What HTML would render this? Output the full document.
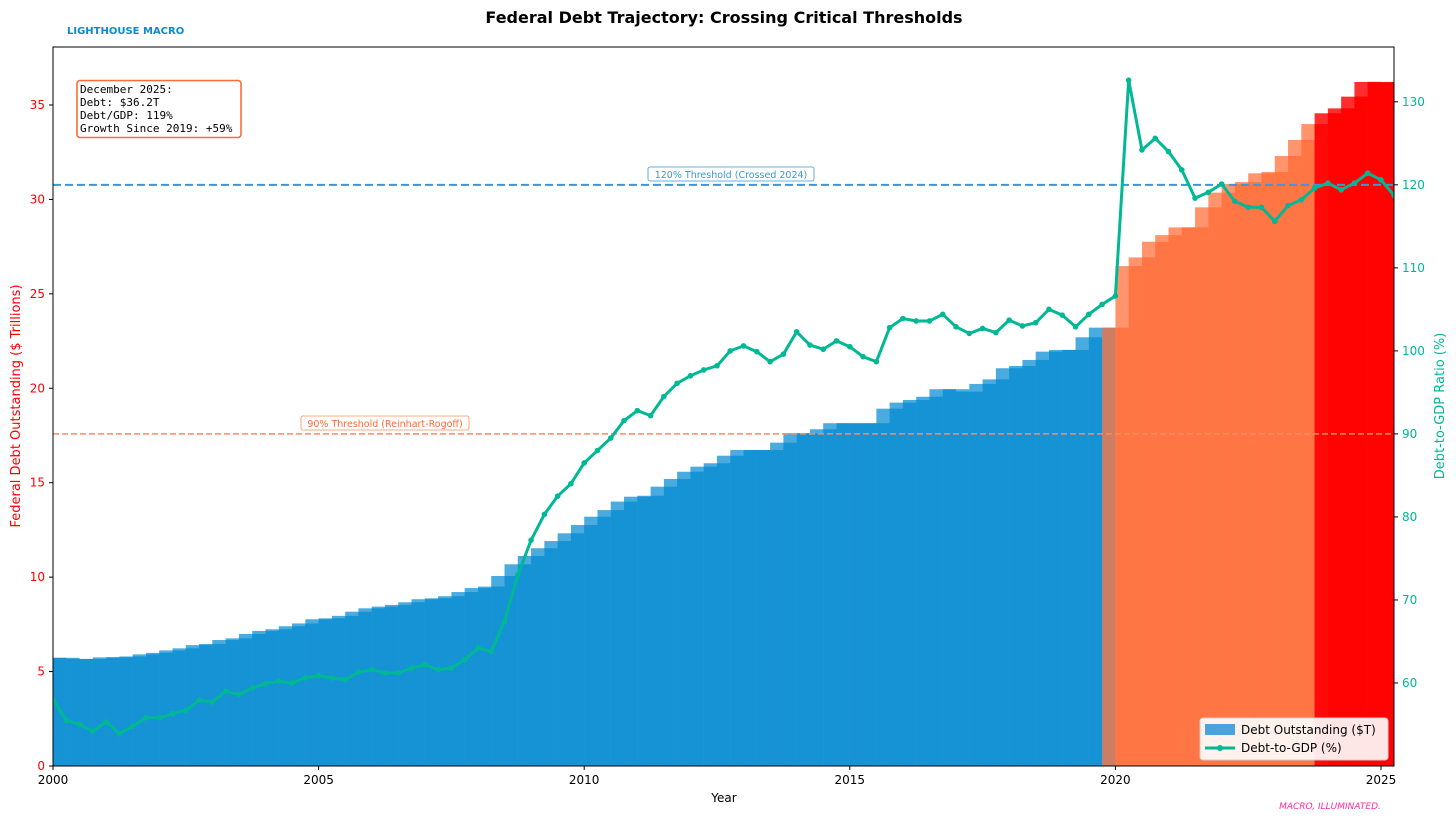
<!DOCTYPE html>
<html><head><meta charset="utf-8"><style>
body{margin:0;background:#fff;}
svg{display:block;font-family:"DejaVu Sans","Liberation Sans",sans-serif;}
</style></head><body>
<svg id="chart" width="1456" height="840" viewBox="0 0 1456 840">
<text x="724" y="23" text-anchor="middle" font-size="16" font-weight="bold" fill="#000">Federal Debt Trajectory: Crossing Critical Thresholds</text>
<text x="67" y="34" font-size="10" font-weight="bold" fill="#0a8ad0">LIGHTHOUSE MACRO</text>
<defs><clipPath id="pc"><rect x="53" y="47" width="1341" height="719"/></clipPath></defs>
<g id="bars" clip-path="url(#pc)"></g>
<g id="lines" clip-path="url(#pc)"></g>
<g id="gdp" clip-path="url(#pc)"></g>
<rect x="53" y="47" width="1341" height="719" fill="none" stroke="#000" stroke-width="1"/>
<g id="axes"></g>
<g>
<rect x="77" y="80.5" width="164" height="57" rx="3" fill="#fff" stroke="#ff6b35" stroke-width="1.6"/>
<text font-family="'DejaVu Sans Mono','Liberation Mono',monospace" font-size="11" fill="#000">
<tspan x="80" y="93">December 2025:</tspan><tspan x="80" y="106">Debt: $36.2T</tspan><tspan x="80" y="119">Debt/GDP: 119%</tspan><tspan x="80" y="132">Growth Since 2019: +59%</tspan></text>
</g>
<g>
<rect x="648" y="167" width="166" height="14" fill="#fff" stroke="#3a98d8" stroke-width="0.8" rx="2"/>
<text x="731" y="178" text-anchor="middle" font-size="9.5" fill="#3a98d8">120% Threshold (Crossed 2024)</text></g>
<g>
<rect x="301" y="416" width="168" height="14" fill="#fff" stroke="#ff8c5a" stroke-width="0.8" rx="2"/>
<text x="385" y="427" text-anchor="middle" font-size="9.5" fill="#ff6b35">90% Threshold (Reinhart-Rogoff)</text></g>
<g>
<rect x="1200" y="718" width="188" height="42" rx="3" fill="rgba(255,255,255,0.9)" stroke="#ccc"/>
<rect x="1205" y="724" width="30" height="11" fill="#4aa3dc"/>
<text x="1241" y="734" font-size="12" fill="#000">Debt Outstanding ($T)</text>
<line x1="1205" y1="748" x2="1235" y2="748" stroke="#00b894" stroke-width="3"/>
<circle cx="1220" cy="748" r="3" fill="#00b894"/>
<text x="1241" y="752" font-size="12" fill="#000">Debt-to-GDP (%)</text></g>
<text x="724" y="802" text-anchor="middle" font-size="12">Year</text>
<text transform="translate(20,406) rotate(-90)" text-anchor="middle" font-size="13" fill="#ff0000">Federal Debt Outstanding ($ Trillions)</text>
<text transform="translate(1444,406) rotate(-90)" text-anchor="middle" font-size="13" fill="#00b894">Debt-to-GDP Ratio (%)</text>
<text x="1330" y="809" text-anchor="middle" font-size="9" font-style="italic" fill="#ff2d9b">MACRO, ILLUMINATED.</text>
</svg>
<script>
const debtValues = [5.73,5.67,5.67,5.75,5.76,5.8,5.91,5.99,6.12,6.23,6.4,6.46,6.67,6.76,6.99,7.15,7.24,7.4,7.55,7.77,7.82,7.95,8.17,8.35,8.44,8.53,8.67,8.83,8.88,8.99,9.21,9.42,9.5,10.06,10.68,11.12,11.53,11.91,12.32,12.76,13.2,13.55,14.0,14.26,14.31,14.79,15.2,15.58,15.85,16.03,16.43,16.73,16.73,16.73,17.12,17.62,17.62,17.83,18.15,18.15,18.15,18.15,18.92,19.24,19.38,19.55,19.95,19.95,19.82,20.23,20.47,21.06,21.18,21.5,21.94,22.03,22.03,22.7,23.21,23.21,26.47,26.93,27.76,28.11,28.52,28.52,29.58,30.36,30.82,30.92,31.38,31.45,32.3,33.15,33.99,34.56,34.82,35.44,36.22,36.22,36.2];
const gdpRatio = [58,55.5,55,54.2, 55.3,53.9,54.8,55.8, 55.8,56.3,56.7,57.9, 57.7,59,58.6,59.4, 59.9,60.2,60.0,60.6, 60.9,60.6,60.4,61.3, 61.6,61.2,61.2,61.8, 62.2,61.6,61.8,62.8, 64.2,63.8,67.4,73, 77.2,80.3,82.5,84, 86.5,88,89.5,91.6, 92.8,92.2,94.5,96.1, 97,97.7,98.2,100, 100.6,99.9,98.7,99.6, 102.3,100.7,100.2,101.2, 100.5,99.3,98.7,102.8, 103.9,103.6,103.6,104.4, 102.9,102.1,102.7,102.2, 103.7,103.0,103.4,105, 104.3,102.9,104.4,105.6, 106.6,132.6,124.2,125.6, 124,121.8,118.4,119.1, 120.1,118,117.3,117.3, 115.6,117.5,118.2,119.6, 120.2,119.4,120.2,121.4, 120.6,118.7];
const startYear = 2000;
const xTicks = [2000,2005,2010,2015,2020,2025];
const leftTicks = [0,5,10,15,20,25,30,35];
const rightTicks = [60,70,80,90,100,110,120,130];
const thresholds = [90,120];
const orangeStart = 79, redStart = 95;

const NS="http://www.w3.org/2000/svg";
const X0=53,X1=1394,Y0=766,Y1=47;
const xs=t=>X0+(t-2000)/(2025.245-2000)*(X1-X0);
const yL=v=>Y0-v/38.07*(Y0-Y1);
const yR=p=>Y0-(p-50)/(136.6-50)*(Y0-Y1);
function mk(tag,attrs,parent){const e=document.createElementNS(NS,tag);for(const k in attrs)e.setAttribute(k,attrs[k]);parent.appendChild(e);return e;}

const bars=document.getElementById('bars');
debtValues.forEach((v,k)=>{
  const t=startYear+0.25*k;
  const col=k>=redStart?'rgba(255,0,0,0.82)':k>=orangeStart?'rgba(255,107,53,0.72)':'rgba(0,137,209,0.71)';
  const w=xs(t+0.5)-xs(t);
  const x0=k===0?xs(t)-w/2:xs(t);
  const r=mk('rect',{x:x0,y:yL(v),width:k===0?w*1.5:w,height:Y0-yL(v),fill:col},bars);
  
  
  if(k===0){
    const r0=mk('rect',{x:xs(t),y:yL(v),width:w/2,height:Y0-yL(v),fill:col},bars);
    
    
  }
  if(k>=redStart){
    const rr=mk('rect',{x:xs(t),y:yL(Math.min(v,debtValues[k-1])),width:w/2,height:Y0-yL(Math.min(v,debtValues[k-1])),fill:'rgba(255,0,0,0.6)'},bars);
    
    
  }
});

const lines=document.getElementById('lines');
thresholds.forEach(p=>{
  const l=mk('line',{x1:X0,x2:X1,y1:yR(p),y2:yR(p),stroke:p===120?'#3a98d8':'#ff8c5a','stroke-width':p===120?2:1.5,'stroke-dasharray':p===120?'8,4':'6,3'},lines);
  
  
});

const g=document.getElementById('gdp');
const pts=gdpRatio.map((p,k)=>[xs(startYear+0.25*k),yR(p)]);
const pl=mk('polyline',{points:pts.map(a=>a.join(',')).join(' '),fill:'none',stroke:'#00b894','stroke-width':3,'stroke-linejoin':'round'},g);


pts.forEach(a=>{
  const c=mk('circle',{cx:a[0],cy:a[1],r:2.8,fill:'#00b894'},g);
  
  
});

const ax=document.getElementById('axes');
xTicks.forEach(t=>{
  mk('line',{x1:xs(t),x2:xs(t),y1:Y0,y2:Y0+4,stroke:'#000'},ax);
  const tx=mk('text',{x:xs(t),y:Y0+18,'text-anchor':'middle','font-size':12},ax);tx.textContent=t;
  
  
});
leftTicks.forEach(v=>{
  mk('line',{x1:X0-4,x2:X0,y1:yL(v),y2:yL(v),stroke:'#000'},ax);
  const tx=mk('text',{x:X0-8,y:yL(v)+4,'text-anchor':'end','font-size':12,fill:'#ff0000'},ax);tx.textContent=v;
  
  
});
rightTicks.forEach(p=>{
  mk('line',{x1:X1,x2:X1+4,y1:yR(p),y2:yR(p),stroke:'#000'},ax);
  const tx=mk('text',{x:X1+8,y:yR(p)+4,'font-size':12,fill:'#00b894'},ax);tx.textContent=p;
  
  
});
</script>
</body></html>
